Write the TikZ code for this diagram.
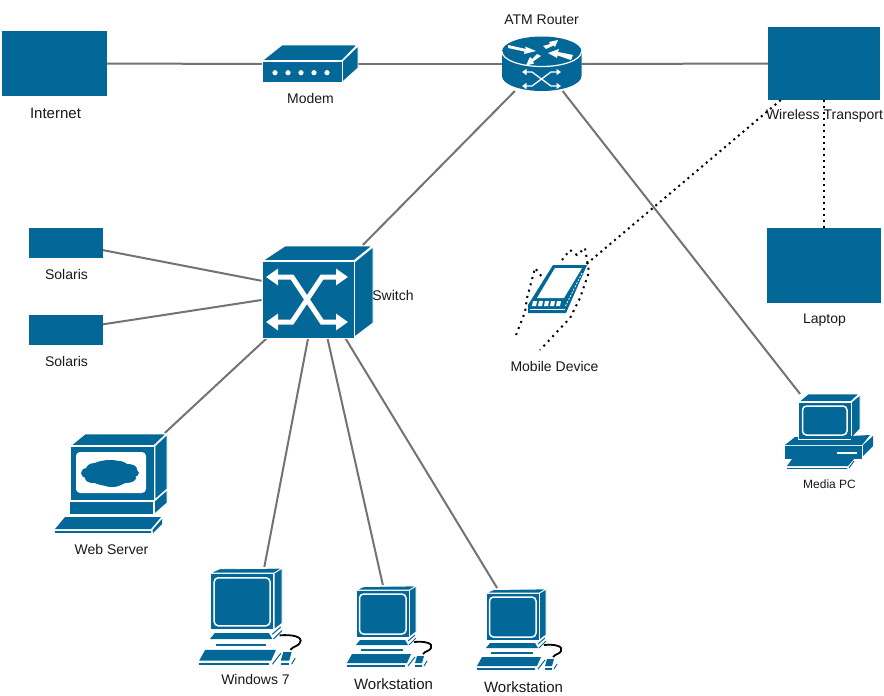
\documentclass[tikz,border=0pt]{standalone}
\usepackage{fontspec}
\setmainfont{Liberation Sans}
\usetikzlibrary{arrows.meta}
\definecolor{dev}{HTML}{036897}
\definecolor{wire}{HTML}{737373}
\tikzset{
  x=1pt,y=-1pt,
  devbox/.style 2 args={minimum width=#1pt,minimum height=#2pt,inner sep=0pt,outer sep=0pt},
  solidbox/.style={fill=dev},
  lbl/.style={inner sep=0pt,font=\fontsize{14}{16}\selectfont,text=black!90},
  lblbig/.style={inner sep=0pt,font=\fontsize{15}{17}\selectfont,text=black!90},
  lblsmall/.style={inner sep=0pt,font=\fontsize{12}{14}\selectfont,text=black!90},
  link/.style={draw=wire,line width=2pt},
  radio/.style={draw=black,line width=2pt,dash pattern=on 2pt off 4pt},
  wave/.style={draw=black,line width=2pt,dash pattern=on 2pt off 4.5pt},
  face/.style={fill=dev,draw=white,line width=0.8pt},
  flat/.style={fill=dev},
  hair/.style={draw=dev,line width=1pt},
  wh/.style={draw=white,line width=1.5pt},
  workst/.pic={
    \path[face] (10,5) rectangle (63,52);
    \path[face] (63.5,5) -- (70,1) -- (70,47) -- (63.5,52) -- cycle;
    \path[face] (10,5) -- (18,1.5) -- (70,1) -- (63.5,5) -- cycle;
    \draw[wh,rounded corners=4pt] (13.5,9) rectangle (60,49);
    \path[flat] (14,55) -- (59,55) -- (62,60) -- (10,60) -- cycle;
    \path[flat] (15,64) rectangle (57,66);
    \path[flat] (6,69) -- (65,69) -- (61,78) -- (1,78) -- cycle;
    \path[flat] (1,80) rectangle (59,82);
    \path[flat] (71,71) -- (78,71) -- (76,78) -- (69,78) -- cycle;
    \path[flat] (69,80) rectangle (76,82);
    \draw[hair] (62,56) -- (69,50);
    \draw[hair] (63,60) -- (70,53);
    \draw[hair] (62,81) -- (69,72);
    \draw[hair] (78,81) -- (81,76);
    \draw[black,line width=1.8pt] (68,57) .. controls (78,56) and (88,58) .. (85,63) .. controls (84,66) and (79,66) .. (77,69);
  }
}
\begin{document}
\begin{tikzpicture}
\useasboundingbox (0,0) rectangle (884,696);
\fill[white] (0,0) rectangle (884,696);

% node boxes
\node[devbox={105}{65},solidbox] (internet) at (54.5,63.5) {};
\node[devbox={96}{37}] (modem) at (310,64) {};
\node[devbox={80}{54}] (router) at (541.5,64) {};
\node[devbox={112}{73},solidbox] (wireless) at (824,63.5) {};
\node[devbox={114}{75},solidbox] (laptop) at (824,265.5) {};
\node[devbox={74}{30},solidbox] (sol1) at (66,243) {};
\node[devbox={74}{30},solidbox] (sol2) at (66,330) {};
\node[devbox={111}{93}] (switch) at (317,291.5) {};
\node[devbox={58}{48}] (mobile) at (557,289) {};
\node[devbox={112}{100}] (web) at (111,483) {};
\node[devbox={112}{98}] (win) at (255,616) {};
\node[devbox={85}{82}] (ws1) at (392,626) {};
\node[devbox={85}{82}] (ws2) at (522,629) {};
\node[devbox={88}{74}] (media) at (829,431) {};

% connectors
\draw[link] (internet) -- (modem);
\draw[link] (modem) -- (router);
\draw[link] (router) -- (wireless);
\draw[link] (router) -- (switch);
\draw[link] (router) -- (media);
\draw[link] (sol1) -- (switch);
\draw[link] (sol2) -- (switch);
\draw[link] (switch) -- (web);
\draw[link] (switch) -- (win);
\draw[link] (switch) -- (ws1);
\draw[link] (switch) -- (ws2);
\draw[radio] (wireless) -- (laptop);
\draw[radio] (wireless) -- (mobile);

% modem
\path[face] (262,61.5) rectangle (342,82.5);
\path[face] (262.5,60.5) -- (282,45) -- (357,45) -- (342,60.5) -- cycle;
\path[face] (342.5,61) -- (358,46) -- (358,68) -- (342.5,82) -- cycle;
\foreach \px in {275,288,301,314,327} \fill[white] (\px,72.7) circle (2.6pt);

% router
\path[flat] (502,51.5) -- (502,76) arc[start angle=180,end angle=360,x radius=39.75,y radius=-15] -- (581.5,51.5) arc[start angle=0,end angle=180,x radius=39.75,y radius=-15] -- cycle;
\draw[white,line width=1.2pt] (502,51.5) arc[start angle=180,end angle=360,x radius=39.75,y radius=-15];
\fill[white] (508,45) -- (526,49) -- (525,46.5) -- (536,51) -- (524,54) -- (524.5,51.5) -- (508,48) -- cycle;
\fill[white] (543,46) -- (550,44) -- (549,42) -- (558,40) -- (555,47) -- (553.5,45.5) -- (546,49) -- cycle;
\fill[white] (573,55) -- (558,52) -- (559,49) -- (548,53) -- (557,58) -- (557.5,55.5) -- (571,60) -- cycle;
\fill[white] (537,54) -- (532,59) -- (530,57) -- (526,65.5) -- (534,63.5) -- (533,61.5) -- (541,56) -- cycle;
\draw[white,line width=1.3pt,{Triangle[length=4.5pt,width=6pt]}-{Triangle[length=4.5pt,width=6pt]}] (522,72) -- (532,72) -- (551,86) -- (561,86);
\draw[white,line width=1.3pt,{Triangle[length=4.5pt,width=6pt]}-{Triangle[length=4.5pt,width=6pt]}] (522,86) -- (532,86) -- (551,72) -- (561,72);

% switch
\path[face] (262,261.5) rectangle (354,338);
\path[face] (263,260.5) -- (285,246) -- (372,246) -- (354,260.5) -- cycle;
\path[face] (354.5,262) -- (373,247) -- (373,323) -- (354.5,337) -- cycle;
\draw[white,line width=5pt,{Triangle[length=12pt,width=16pt]}-{Triangle[length=12pt,width=16pt]}] (266,277) -- (292,277) -- (322,322) -- (348,322);
\draw[white,line width=5pt,{Triangle[length=12pt,width=16pt]}-{Triangle[length=12pt,width=16pt]}] (266,322) -- (292,322) -- (322,277) -- (348,277);

% mobile device
\path[flat] (553,265) -- (587,265) -- (566,313) -- (528,313) -- (528,305) -- cycle;
\path[fill=white] (555,268) -- (582,268) -- (564,298) -- (537,298) -- cycle;
\foreach \kx in {533,539,545,551,557} \fill[white] (\kx,301) -- (\kx+4,301) -- (\kx+3,306) -- (\kx-1,306) -- cycle;
\draw[white,line width=0.7pt] (530,309) -- (565,309);
\draw[white,line width=0.7pt,dash pattern=on 2pt off 1.5pt] (582,273) -- (565,307);
\draw[wave] (516,335) -- (525,312) -- (527,298) -- (535,268) -- (542,277);
\draw[wave] (562,260) -- (570,250) -- (577,255) -- (585,248) -- (589,272) -- (580,298) -- (570,318) -- (540,350);

% web server
\path[face] (70,446) rectangle (154,500);
\path[face] (71,445.5) -- (85,434) -- (166,434) -- (154,445.5) -- cycle;
\path[face] (155,446) -- (167,434.5) -- (167,489) -- (155,499.5) -- cycle;
\path[face] (69,501) rectangle (153.5,514.5);
\path[face] (154.5,501) -- (167,490) -- (167,503) -- (154.5,514) -- cycle;
\fill[white,rounded corners=4pt] (76,452) rectangle (146,493);
\foreach \cx/\cy/\rx/\ry in {110/473/24/13,95/469/9/6,119/467/8/6,128/469/9/5,87/473/6/5,133/473/6/4,93/478/8/5,126/478/10/5,112/479/14/8}
  \fill[dev] (\cx,\cy) ellipse[x radius=\rx,y radius=\ry];
\path[flat] (65,517) -- (161,517) -- (151,529) -- (55,529) -- cycle;
\path[flat] (55,530.5) rectangle (151,533);
\path[flat] (162,519) -- (162,524) -- (153,533) -- (152.5,530) -- cycle;

% media pc
\path[face] (798.5,402) rectangle (851,439);
\path[face] (799,401.5) -- (808,394) -- (859,394) -- (851,401.5) -- cycle;
\path[face] (851.5,402) -- (860,395) -- (860,429) -- (851.5,438) -- cycle;
\draw[wh,rounded corners=4pt] (802.5,406) rectangle (847,435);
\path[flat] (795,437) -- (798,437) -- (798,440) -- (851,440) -- (851,436) -- (870,435) -- (862,445) -- (785,445) -- cycle;
\path[flat] (785,446) rectangle (862,458.5);
\path[flat] (863,445) -- (873,436) -- (873,446) -- (863,456) -- cycle;
\fill[white] (837,451.5) rectangle (857,453.8);
\path[flat] (792,459) -- (854,459) -- (848,466) -- (787,466) -- cycle;
\path[flat] (787,467.5) rectangle (847,469);
\draw[hair] (849,468) -- (854,461);

% workstations
\pic[scale=1.2] at (198,567) {workst};
\pic at (346,585) {workst};
\pic at (476,588) {workst};

% labels
\node[lblbig] (tinternet) at (55.5,113) {Internet};
\node[lbl] (tmodem) at (310.5,98) {Modem};
\node[lbl] (trouter) at (541.5,20) {ATM Router};
\node[lbl] (twireless) at (824.5,116) {Wireless Transport};
\node[lbl] (tlaptop) at (824.5,320) {Laptop};
\node[lbl] (tsol1) at (66.5,274) {Solaris};
\node[lbl] (tsol2) at (66.5,361) {Solaris};
\node[lbl] (tswitch) at (393,295) {Switch};
\node[lbl] (tmobile) at (554.5,366) {Mobile Device};
\node[lblsmall] (tmedia) at (829.5,484) {Media PC};
\node[lbl] (tweb) at (111.5,549) {Web Server};
\node[lbl] (twin) at (255.5,679) {Windows 7};
\node[lblbig] (tws1) at (393.5,684) {Workstation};
\node[lblbig] (tws2) at (523.5,687) {Workstation};
\end{tikzpicture}
\end{document}
